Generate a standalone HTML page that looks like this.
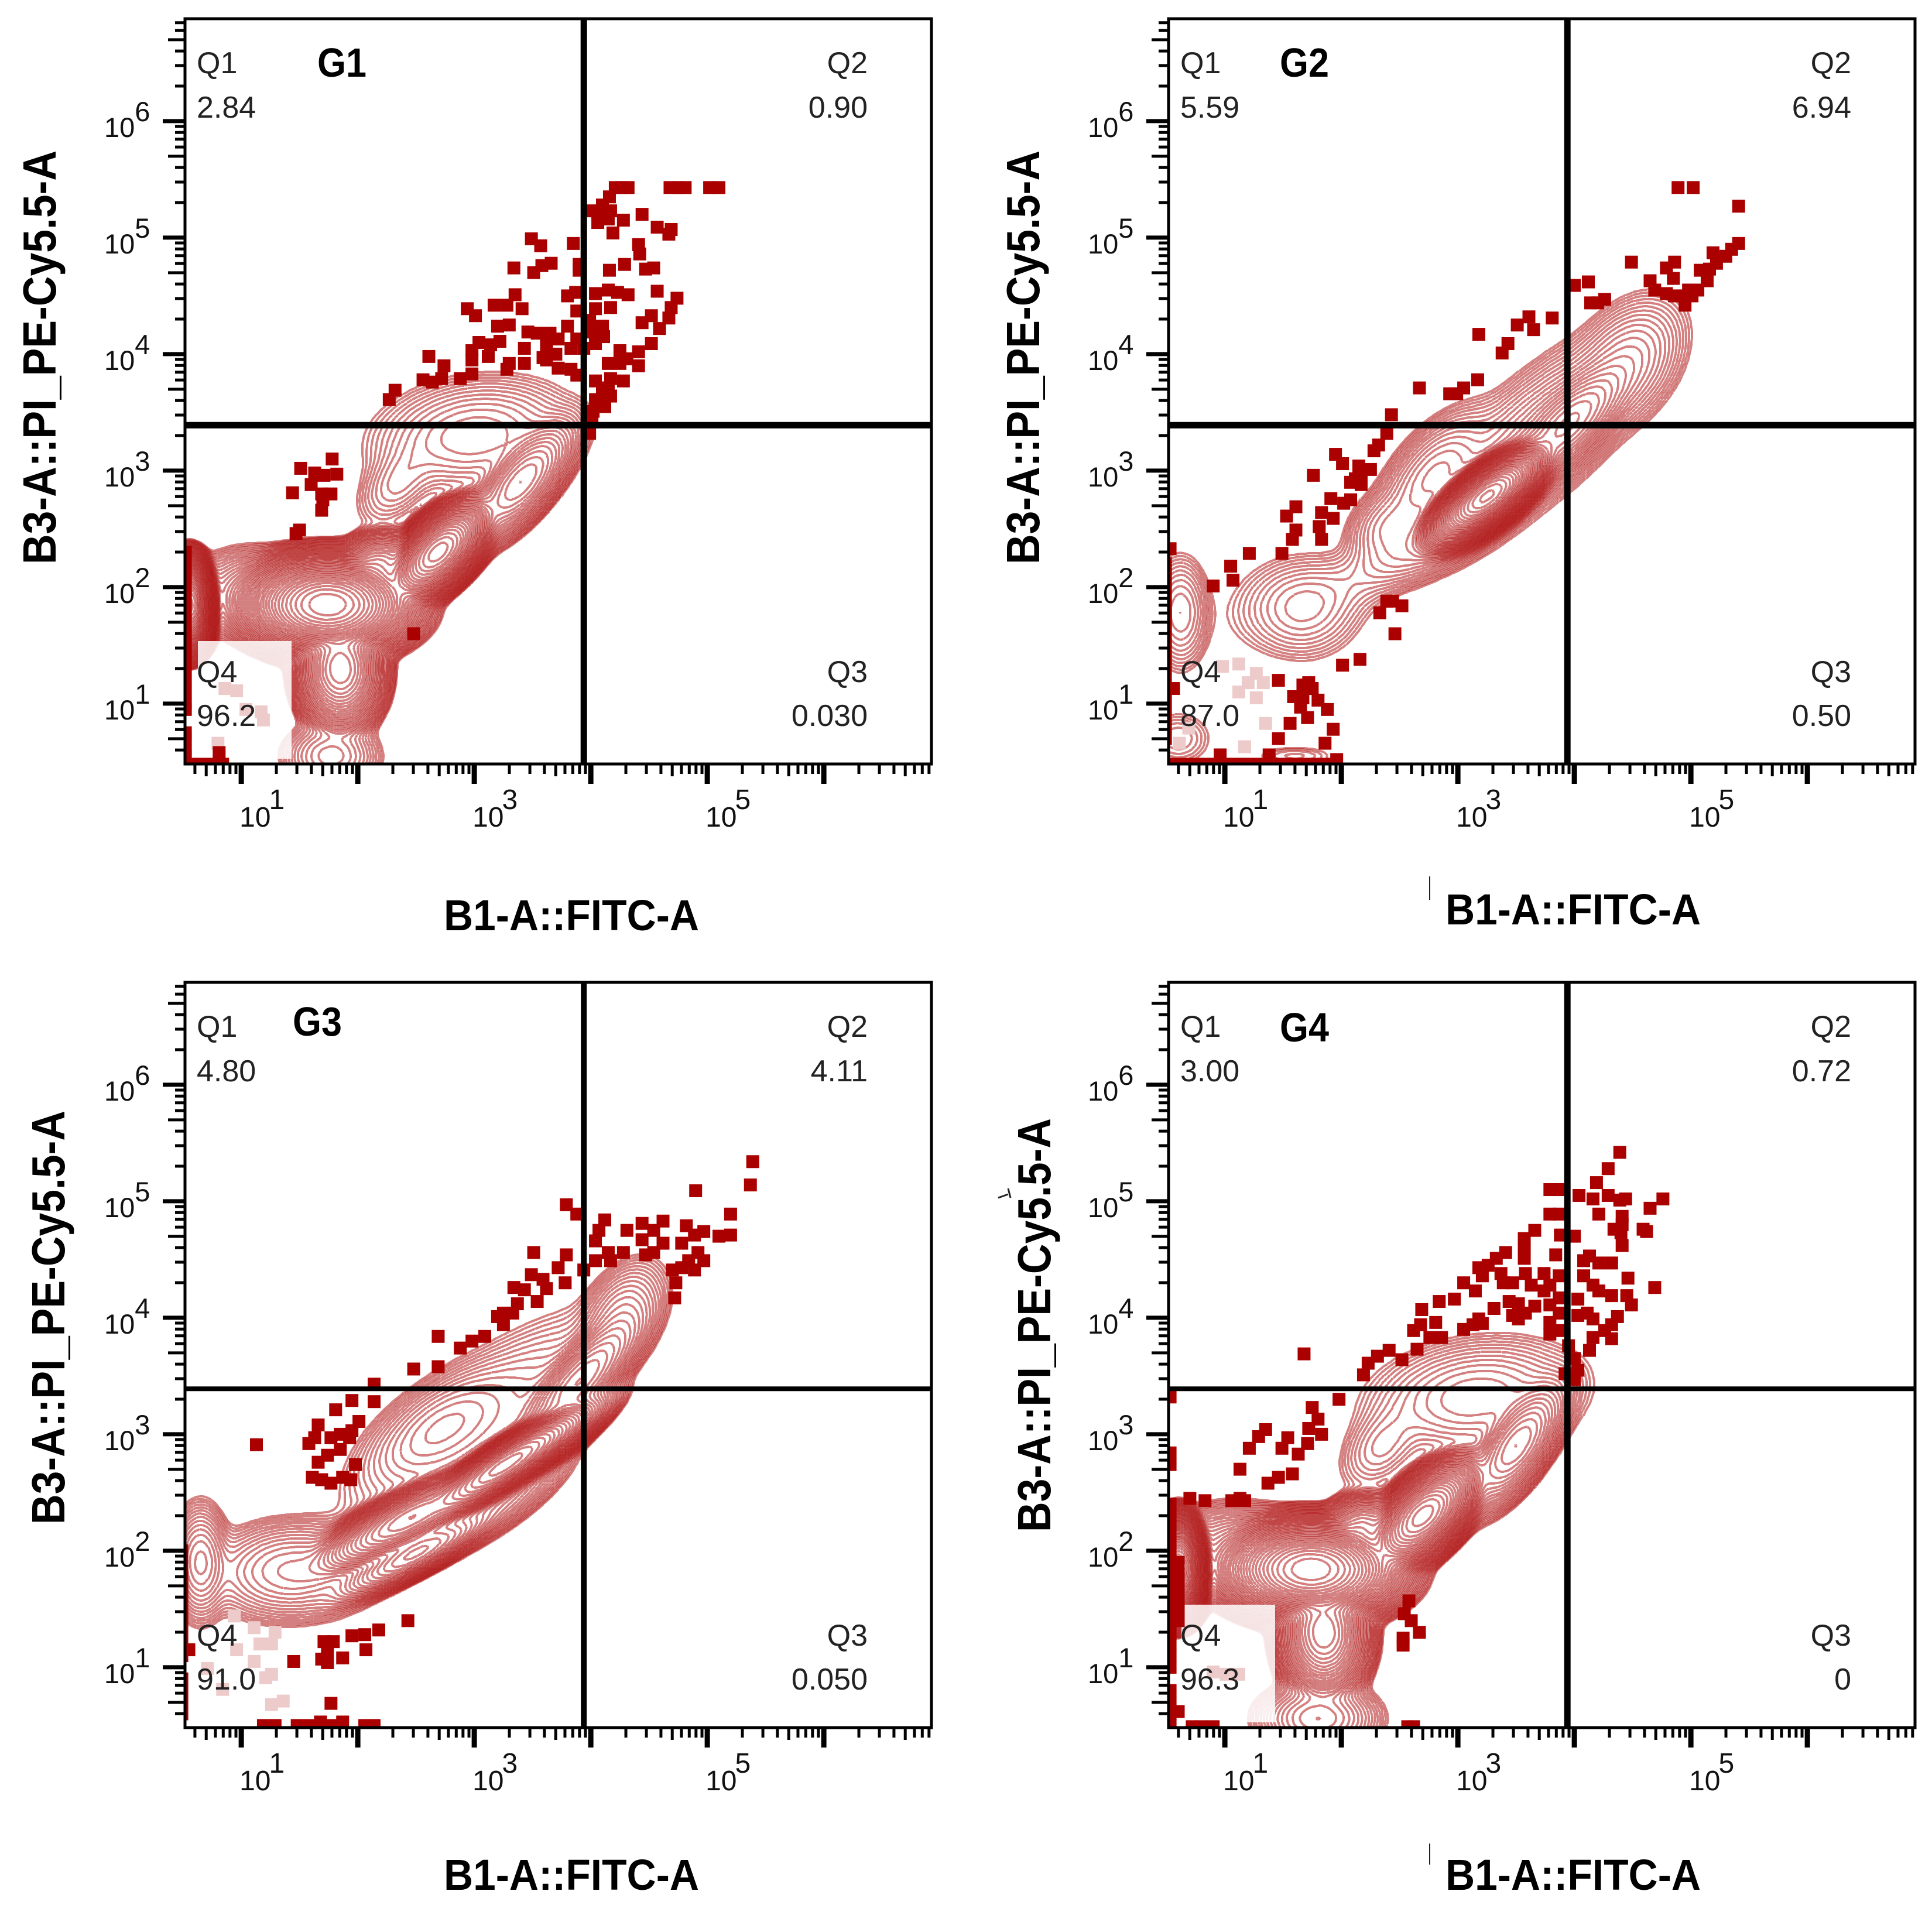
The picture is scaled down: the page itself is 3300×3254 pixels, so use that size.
<!DOCTYPE html>
<html lang="en">
<head>
<meta charset="utf-8">
<title>Flow cytometry quadrant plots G1-G4</title>
<style>
html,body{margin:0;padding:0;background:#fff}
svg{display:block}
text{font-family:"Liberation Sans",sans-serif}
</style>
</head>
<body>
<svg id="figure" width="3300" height="3254" viewBox="0 0 3300 3254"></svg>
<script>
/* ---- shared axis data (values are log10 of fluorescence intensity) ---- */
const xDomain = [0.517, 6.924];
const yDomain = [0.482, 6.879];
const xMajorDecades = [1, 2, 3, 4, 5, 6];
const yMajorDecades = [1, 2, 3, 4, 5, 6];
const xLabelDecades = [1, 3, 5];
const yLabelDecades = [1, 2, 3, 4, 5, 6];
const minorMultipliers = [2, 3, 4, 5, 6, 7, 8, 9];
const gateLogX = 3.94;
const gateLogY = 3.39;
const xAxisTitle = 'B1-A::FITC-A';
const yAxisTitle = 'B3-A::PI_PE-Cy5.5-A';

/* ---- G1 ---- */
const g1Stats = ['2.84', '0.90', '0.030', '96.2'];
const g1DotX = [4.21,4.27,4.32,4.68,4.75,4.81,5.02,5.10,4.16,4.10,4.02,4.10,4.17,4.06,4.15,4.28,4.19,4.44,4.57,4.69,4.67,4.41,4.42,3.85,3.49,3.57,3.90,3.90,3.66,3.58,3.51,3.34,4.16,4.29,4.47,4.54,4.57,4.74,4.69,4.67,4.52,4.44,4.59,4.52,4.41,4.25,4.31,4.15,4.25,4.41,4.28,4.17,4.04,4.15,4.10,4.17,4.04,4.12,4.02,4.01,3.99,4.04,4.15,4.23,4.32,4.17,4.04,3.87,3.80,3.88,3.99,4.10,4.02,4.11,4.04,3.80,3.88,3.94,3.83,3.72,3.65,3.54,3.46,3.62,3.70,3.62,3.43,3.43,3.30,3.28,3.22,3.14,3.04,2.98,2.98,3.12,3.20,3.30,3.41,3.28,3.35,3.17,3.01,2.94,2.98,2.88,2.74,2.72,2.61,2.56,2.64,2.32,2.27,3.83,3.88,3.72,3.59,1.78,1.51,1.63,1.71,1.82,1.60,1.69,1.77,1.70,1.69,1.44,1.50,1.47,2.48,
 .52,.52,.52,.52,.52,.52,.52,.52,.52,.52,.52,.52,.52,.52,.52,.52,.52,.52,.52,.57,.66,.76,.84,.81];
const g1DotY = [5.43,5.43,5.43,5.43,5.43,5.43,5.43,5.43,5.35,5.28,5.23,5.22,5.23,5.13,5.16,5.15,5.04,5.20,5.09,5.07,5.03,4.94,4.86,4.95,4.99,4.93,4.77,4.72,4.78,4.76,4.70,4.74,4.72,4.77,4.73,4.74,4.54,4.48,4.40,4.31,4.33,4.27,4.22,4.09,4.02,4.03,3.96,3.92,3.92,3.90,3.77,3.79,3.77,3.71,3.66,3.64,3.61,3.55,3.51,3.43,3.32,4.52,4.55,4.53,4.51,4.40,4.39,4.53,4.50,4.37,4.29,4.24,4.19,4.15,4.09,4.24,4.13,4.05,4.05,4.13,4.18,4.18,4.19,4.08,4.00,3.95,4.05,3.92,3.92,3.87,4.11,4.08,4.10,4.03,3.95,3.98,4.24,4.25,4.39,4.42,4.51,4.42,4.33,4.39,3.83,3.79,3.90,3.79,3.98,3.78,3.76,3.69,3.61,3.87,3.82,3.88,3.97,3.10,3.02,2.98,2.96,2.97,2.88,2.80,2.80,2.75,2.66,2.81,2.49,2.46,1.60,
 2.3,2.2,2.1,2.0,1.9,1.8,1.7,1.6,1.5,1.4,1.3,1.2,1.1,1.0,.95,.75,.7,.6,.55,.48,.48,.48,.48,.58];
const g1PaleX = [.86,.96,1.04,1.17,1.19,.80];
const g1PaleY = [1.13,1.11,.95,.93,.86,.66];
const g1PeakX = [1.74,1.85,1.10,.55,2.69,2.17,3.40,3.00,2.35,1.77];
const g1PeakY = [1.85,1.30,1.95,1.85,2.30,2.18,2.90,3.30,2.90,.55];
const g1SpreadA = [.205,.115,.22,.057,.165,.12,.24,.36,.20,.17];
const g1SpreadB = [.119,.16,.15,.106,.083,.095,.10,.20,.12,.12];
const g1Tilt = [0,0,0,0,45,20,50,8,50,0];
const g1Height = [12,9,4,14,11,7,6,3.6,2.5,3.5];

/* ---- G2 ---- */
const g2Stats = ['5.59', '6.94', '0.50', '87.0'];
const g2DotX = [4.89,5.02,5.41,5.41,5.35,5.30,5.19,5.22,5.16,5.08,5.14,5.06,4.98,5.01,4.93,4.95,4.86,4.79,4.85,4.65,4.69,4.79,4.86,4.49,4.12,4.00,4.26,4.14,4.20,3.81,3.61,3.51,3.65,3.18,3.43,3.38,3.17,3.05,2.99,2.93,2.67,2.43,2.39,2.32,2.28,1.95,2.01,2.15,2.25,2.17,2.12,2.08,2.17,1.76,1.91,2.02,2.08,1.61,1.53,1.83,1.93,1.81,1.61,1.58,1.83,1.49,1.21,1.05,1.07,.90,.53,2.39,2.44,2.52,2.33,2.46,2.16,2.01,1.46,1.72,1.67,1.75,1.59,1.67,1.80,1.88,1.65,1.71,1.56,1.93,1.46,1.86,.96,1.38,1.96,.56,
 .55,.65,.75,.85,.95,1.05,1.15,1.25,1.35,1.45,1.55,1.65,1.75,1.85,1.95,
 .49,.49,.49,.49,.49,.49,.49,.49,.49,.49,.49,.49,.49,.49,.49,.49];
const g2DotY = [5.43,5.43,5.27,4.95,4.90,4.84,4.87,4.78,4.73,4.72,4.63,4.55,4.55,4.50,4.50,4.42,4.79,4.74,4.65,4.63,4.55,4.52,4.50,4.79,4.62,4.59,4.47,4.44,4.44,4.31,4.32,4.25,4.21,4.17,4.09,4.01,3.78,3.71,3.66,3.66,3.71,3.48,3.32,3.22,3.17,3.14,3.06,3.04,3.01,2.98,2.93,2.90,2.88,2.96,2.76,2.72,2.75,2.69,2.61,2.64,2.59,2.52,2.49,2.41,2.41,2.29,2.29,2.18,2.06,2.01,2.33,1.88,1.88,1.84,1.78,1.60,1.38,1.33,1.20,1.18,1.16,1.13,1.06,1.05,1.03,.95,.97,.88,.83,.78,.70,.66,.56,.56,.52,1.13,
 .48,.48,.48,.48,.48,.48,.48,.48,.48,.48,.48,.48,.48,.48,.48,
 2.2,2.1,2.0,1.9,1.8,1.7,1.6,1.5,1.4,1.3,1.2,1.1,1.0,.9,.8,.7];
const g2PaleX = [1.12,1.27,1.20,1.33,1.12,1.27,.69,1.35,1.17,.98,.61];
const g2PaleY = [1.34,1.26,1.18,1.18,1.10,1.05,.79,.83,.63,1.32,.66];
const g2PeakX = [3.25,4.45,3.95,2.80,2.40,1.67,1.50,1.90,.62,.60,1.60,2.75,3.70];
const g2PeakY = [2.78,3.92,3.40,2.95,2.50,1.81,1.85,1.95,1.78,.70,.55,2.38,3.30];
const g2SpreadA = [.17,.26,.28,.28,.17,.22,.32,.30,.11,.15,.20,.35,.48];
const g2SpreadB = [.07,.17,.105,.14,.13,.19,.20,.15,.21,.12,.05,.12,.19];
const g2Tilt = [38,55,45,50,45,0,15,20,0,0,0,25,42];
const g2Height = [13,3.6,6,4.0,3.2,2.6,.9,1.5,3.0,1.5,1.0,3.5,4];

/* ---- G3 ---- */
const g3Stats = ['4.80', '4.11', '0.050', '91.0'];
const g3DotX = [5.39,5.37,4.90,5.20,5.20,5.10,4.82,4.97,4.89,4.78,4.92,4.84,4.97,4.89,4.78,4.70,4.73,4.72,4.62,4.44,4.31,4.54,4.44,4.62,4.54,4.28,4.47,4.12,4.07,4.04,4.15,4.04,4.17,3.94,3.79,3.88,3.79,3.51,3.72,3.49,3.59,3.78,3.62,3.34,3.43,3.37,3.54,3.25,3.20,3.33,3.25,3.09,2.98,2.88,2.69,2.69,2.48,2.14,2.14,1.95,1.81,2.01,1.66,1.95,1.85,1.77,1.63,1.58,1.93,1.74,1.85,1.66,1.98,1.61,1.69,1.87,1.77,1.94,1.13,2.43,2.18,2.06,1.95,1.71,1.79,1.74,2.07,1.69,1.74,1.87,1.45,1.77,
 1.19,1.29,1.48,1.58,1.68,1.77,1.87,2.06,2.14,.55,
 .49,.49,.49,.49,.49,.49,.49,.49,.49,.49,.49,.49,.49,.49];
const g3DotY = [5.34,5.14,5.09,4.89,4.71,4.70,4.79,4.74,4.71,4.64,4.56,4.49,4.49,4.41,4.43,4.41,4.30,4.17,4.83,4.81,4.75,4.75,4.67,4.64,4.56,4.56,4.54,4.84,4.75,4.66,4.56,4.49,4.49,4.41,4.97,4.89,4.54,4.56,4.43,4.37,4.33,4.30,4.25,4.26,4.24,4.12,4.14,4.04,4.01,4.04,3.94,3.84,3.80,3.74,3.84,3.58,3.56,3.43,3.28,3.29,3.21,3.11,3.08,3.03,3.00,2.97,2.97,2.92,2.97,2.82,2.87,2.76,2.74,2.63,2.61,2.63,2.58,2.61,2.91,1.40,1.32,1.28,1.27,1.22,1.22,1.15,1.15,1.07,1.04,1.08,1.05,.69,
 .50,.50,.50,.50,.53,.50,.53,.50,.50,1.15,
 2.0,1.9,1.8,1.7,1.6,1.5,1.4,1.3,1.2,1.1,.9,.8,.7,.6];
const g3PaleX = [.94,1.11,1.29,1.26,1.16,.96,1.11,.71,1.26,1.21,.84,1.36,1.26];
const g3PaleY = [1.44,1.34,1.30,1.20,1.20,1.15,1.05,.99,.94,.91,.81,.71,.68];
const g3PeakX = [3.27,2.45,2.50,1.45,2.70,4.25,3.90,.65,3.20,3.10];
const g3PeakY = [2.74,2.28,1.98,1.83,3.05,4.00,3.45,1.90,2.45,3.10];
const g3SpreadA = [.27,.277,.263,.30,.33,.22,.30,.10,.30,.60];
const g3SpreadB = [.062,.076,.062,.17,.15,.13,.095,.20,.10,.22];
const g3Tilt = [33,28,28,3,35,60,48,0,35,38];
const g3Height = [11,9,7,4.0,3.8,3.6,6,4.0,4.0,3];

/* ---- G4 ---- */
const g4Stats = ['3.00', '0.72', '0', '96.3'];
const g4DotX = [4.39,4.29,4.19,4.04,4.16,4.29,4.39,4.44,4.76,4.65,4.21,4.41,4.41,4.34,4.40,4.59,4.62,4.41,4.69,4.46,3.84,3.79,3.87,3.79,3.87,3.66,3.57,3.57,3.57,3.88,4.00,3.84,3.41,3.33,3.18,3.26,3.05,3.15,3.21,3.37,3.39,3.47,3.58,3.74,3.87,3.63,3.74,3.79,2.84,2.69,2.97,3.31,3.44,3.52,3.58,3.66,3.79,3.87,4.03,4.08,4.13,4.21,4.32,4.08,4.16,4.21,4.32,4.45,4.49,4.11,4.16,4.37,4.32,4.26,4.16,4.32,4.13,4.03,3.87,3.79,3.89,3.79,3.52,3.47,3.18,3.13,3.21,3.05,2.81,2.68,2.62,2.76,2.86,2.65,2.52,2.41,2.31,2.23,2.19,1.68,3.95,4.00,4.03,4.00,3.92,1.98,1.75,1.80,1.72,1.83,1.71,1.54,1.49,1.63,1.35,1.29,1.21,1.13,1.58,1.46,1.37,.53,.53,.53,.70,.83,1.06,1.13,1.17,2.58,2.54,2.60,2.67,2.53,2.53,2.57,2.62,
 .53,.53,.53,.53,.53,.53,.53,.53,.53,.53,.53,.53,.53,.53,.53,.53,.53,.53,.53,.60,.60,.60,.60,.60,.60,.72,.80,.90,.60];
const g4DotY = [5.42,5.28,5.16,5.05,5.02,5.05,5.01,5.02,5.02,4.94,4.89,4.87,4.80,4.76,4.73,4.76,4.74,4.62,4.26,4.34,5.10,5.10,5.10,4.89,4.89,4.75,4.68,4.60,4.51,4.71,4.70,4.54,4.56,4.51,4.43,4.45,4.30,4.23,4.36,4.38,4.30,4.30,4.38,4.38,4.36,4.28,4.23,4.28,4.14,4.07,4.16,4.08,4.14,4.12,4.04,4.10,4.11,4.17,4.16,4.49,4.53,4.47,4.47,4.36,4.28,4.23,4.19,4.19,4.11,4.04,3.99,4.01,3.94,3.89,3.83,3.82,3.72,4.02,4.04,3.96,3.89,3.86,3.99,4.02,3.99,3.94,3.95,3.90,3.96,3.94,3.89,3.83,3.83,3.73,3.64,3.72,3.67,3.61,3.51,3.69,3.76,3.65,3.55,3.47,3.52,3.30,3.23,3.13,3.05,3.00,2.92,2.97,2.88,2.83,3.04,2.98,2.88,2.70,2.66,2.63,2.58,3.32,2.84,2.74,2.45,2.43,2.43,2.45,2.43,1.57,1.46,1.40,1.30,1.25,1.19,.49,.49,
 2.4,2.3,2.2,2.1,2.0,1.9,1.8,1.7,1.6,1.5,1.4,1.3,1.2,1.1,1.0,.8,.7,.6,.5,1.9,1.8,1.7,1.6,1.5,1.4,.49,.49,.49,.62];
const g4PaleX = [.90,1.01,1.12];
const g4PaleY = [.96,.94,.94];
const g4PeakX = [1.74,1.85,1.10,.60,2.70,2.17,3.50,3.15,2.35,1.80];
const g4PeakY = [1.84,1.30,2.00,1.85,2.30,2.19,2.90,3.32,2.90,.56];
const g4SpreadA = [.216,.12,.25,.063,.18,.12,.24,.38,.20,.20];
const g4SpreadB = [.119,.17,.15,.11,.09,.095,.10,.20,.13,.12];
const g4Tilt = [0,0,0,0,45,20,55,8,50,0];
const g4Height = [12,9,4.5,15,11,7,6,3.6,2.5,4.5];

/* ---- panel descriptors ---- */
const panels = [
 {id:'g1',name:'G1',left:316,top:32,gateW:11,gateH:11,stats:g1Stats,dotX:g1DotX,dotY:g1DotY,paleX:g1PaleX,paleY:g1PaleY,
  peakX:g1PeakX,peakY:g1PeakY,spreadA:g1SpreadA,spreadB:g1SpreadB,tilt:g1Tilt,height:g1Height,
  wash:true,labelX:542,labelY:131,xTitle:[758,1589],yTitle:[95,964]},
 {id:'g2',name:'G2',left:1996,top:32,gateW:11,gateH:11,stats:g2Stats,dotX:g2DotX,dotY:g2DotY,paleX:g2PaleX,paleY:g2PaleY,
  peakX:g2PeakX,peakY:g2PeakY,spreadA:g2SpreadA,spreadB:g2SpreadB,tilt:g2Tilt,height:g2Height,
  wash:false,labelX:2186,labelY:131,xTitle:[2469,1579],yTitle:[1775,964]},
 {id:'g3',name:'G3',left:316,top:1678,gateW:10,gateH:8,stats:g3Stats,dotX:g3DotX,dotY:g3DotY,paleX:g3PaleX,paleY:g3PaleY,
  peakX:g3PeakX,peakY:g3PeakY,spreadA:g3SpreadA,spreadB:g3SpreadB,tilt:g3Tilt,height:g3Height,
  wash:false,labelX:500,labelY:1769,xTitle:[758,3228],yTitle:[110,2604]},
 {id:'g4',name:'G4',left:1996,top:1678,gateW:11,gateH:8,stats:g4Stats,dotX:g4DotX,dotY:g4DotY,paleX:g4PaleX,paleY:g4PaleY,
  peakX:g4PeakX,peakY:g4PeakY,spreadA:g4SpreadA,spreadB:g4SpreadB,tilt:g4Tilt,height:g4Height,
  wash:true,labelX:2186,labelY:1779,xTitle:[2469,3228],yTitle:[1794,2617]}
];

/* ---- rendering ---- */
const NS = 'http://www.w3.org/2000/svg';
const root = document.getElementById('figure');
const plotW = 1275, plotH = 1273;
const levelStep = 0.3, gridCells = 256;

function make(tag, attrs, parent) {
  const el = document.createElementNS(NS, tag);
  for (const k in attrs) el.setAttribute(k, attrs[k]);
  (parent || root).appendChild(el);
  return el;
}
function xScale(p, v) { return p.left + (v - xDomain[0]) / (xDomain[1] - xDomain[0]) * plotW; }
function yScale(p, v) { return p.top + plotH - (v - yDomain[0]) / (yDomain[1] - yDomain[0]) * plotH; }

function densityField(p) {
  const n = gridCells, field = new Float64Array((n + 1) * (n + 1));
  const comps = p.peakX.map((cx, i) => {
    const t = p.tilt[i] * Math.PI / 180;
    return {cx, cy: p.peakY[i], a: p.spreadA[i], b: p.spreadB[i], c: Math.cos(t), s: Math.sin(t), h: p.height[i]};
  });
  const dx = (xDomain[1] - xDomain[0]) / n, dy = (yDomain[1] - yDomain[0]) / n;
  for (let j = 0; j <= n; j++) {
    const y = yDomain[0] + j * dy;
    for (let i = 0; i <= n; i++) {
      const x = xDomain[0] + i * dx;
      let sum = 1e-4;
      for (const m of comps) {
        const ox = x - m.cx, oy = y - m.cy;
        const u = (ox * m.c + oy * m.s) / m.a, v = (-ox * m.s + oy * m.c) / m.b;
        const q = 0.5 * (u * u + v * v);
        if (q < 30) sum += Math.exp(m.h - q);
      }
      field[j * (n + 1) + i] = Math.log(sum);
    }
  }
  return field;
}

function contourPath(p, field, level) {
  const n = gridCells, w = n + 1;
  const dx = (xDomain[1] - xDomain[0]) / n, dy = (yDomain[1] - yDomain[0]) / n;
  const parts = [];
  const px = (i, j) => Math.round(xScale(p, xDomain[0] + i * dx)) + ' ' + Math.round(yScale(p, yDomain[0] + j * dy));
  for (let j = 0; j < n; j++) {
    for (let i = 0; i < n; i++) {
      const a = field[j * w + i], b = field[j * w + i + 1], c = field[(j + 1) * w + i + 1], d = field[(j + 1) * w + i];
      const mask = (a >= level ? 1 : 0) | (b >= level ? 2 : 0) | (c >= level ? 4 : 0) | (d >= level ? 8 : 0);
      if (mask === 0 || mask === 15) continue;
      const bottom = () => px(i + (level - a) / (b - a), j);
      const right = () => px(i + 1, j + (level - b) / (c - b));
      const top = () => px(i + (level - d) / (c - d), j + 1);
      const left = () => px(i, j + (level - a) / (d - a));
      const seg = (f, g) => parts.push('M' + f() + 'L' + g());
      switch (mask) {
        case 1: case 14: seg(left, bottom); break;
        case 2: case 13: seg(bottom, right); break;
        case 3: case 12: seg(left, right); break;
        case 4: case 11: seg(right, top); break;
        case 6: case 9: seg(bottom, top); break;
        case 7: case 8: seg(left, top); break;
        case 5: seg(left, top); seg(bottom, right); break;
        case 10: seg(left, bottom); seg(right, top); break;
      }
    }
  }
  return parts.join('');
}

const defs = make('defs', {});

panels.forEach(p => {
  const g = make('g', {});
  
  

  const clip = make('clipPath', {id: 'clip-' + p.id}, defs);
  make('rect', {x: p.left, y: p.top, width: plotW, height: plotH}, clip);

  const plot = make('g', {'clip-path': 'url(#clip-' + p.id + ')'}, g);
  
  

  /* contour lines */
  const field = densityField(p);
  const contours = make('g', {fill: 'none', stroke: '#b01818', 'stroke-opacity': '0.55', 'stroke-width': '4'}, plot);
  
  
  for (let k = 0; k < 70; k++) {
    const d = contourPath(p, field, k * levelStep);
    if (!d) continue;
    const path = make('path', {d: d}, contours);
    
    
  }

  /* whitened block behind the Q4 label */
  if (p.wash) {
    const wash = make('rect', {x: p.left + 22, y: p.top + plotH - 210, width: 160, height: 201, fill: '#fff', 'fill-opacity': '0.86'}, plot);
    
    
  }

  /* pale events */
  p.paleX.forEach((v, i) => {
    const dot = make('rect', {x: xScale(p, v) - 11, y: yScale(p, p.paleY[i]) - 11, width: 22, height: 22, fill: '#eecbcb'}, plot);
    
    
  });

  /* outlier events */
  p.dotX.forEach((v, i) => {
    const dot = make('rect', {x: xScale(p, v) - 11, y: yScale(p, p.dotY[i]) - 11, width: 22, height: 22, fill: '#aa0000'}, plot);
    
    
  });

  /* quadrant gates */
  const gv = make('line', {x1: xScale(p, gateLogX), x2: xScale(p, gateLogX), y1: p.top, y2: p.top + plotH, stroke: '#000', 'stroke-width': p.gateW}, g);
  
  
  const gh = make('line', {x1: p.left, x2: p.left + plotW, y1: yScale(p, gateLogY), y2: yScale(p, gateLogY), stroke: '#000', 'stroke-width': p.gateH}, g);
  
  

  /* frame */
  const frame = make('rect', {x: p.left, y: p.top, width: plotW, height: plotH, fill: 'none', stroke: '#000', 'stroke-width': '5'}, g);
  
  

  /* x ticks */
  const xTicks = make('g', {stroke: '#000'}, g);
  
  
  const bottomY = p.top + plotH;
  [0].concat(xMajorDecades).forEach(dec => {
    minorMultipliers.forEach(m => {
      const v = dec + Math.log10(m);
      if (v < xDomain[0] || v > xDomain[1]) return;
      const len = m === 5 ? 21 : 17;
      const t = make('line', {x1: xScale(p, v), x2: xScale(p, v), y1: bottomY, y2: bottomY + len, 'stroke-width': 5}, xTicks);
      
      
    });
  });
  xMajorDecades.forEach(dec => {
    const t = make('line', {x1: xScale(p, dec), x2: xScale(p, dec), y1: bottomY, y2: bottomY + 34, 'stroke-width': 9}, xTicks);
    
    
  });

  /* y ticks */
  const yTicks = make('g', {stroke: '#000'}, g);
  
  
  [0].concat(yMajorDecades).forEach(dec => {
    minorMultipliers.forEach(m => {
      const v = dec + Math.log10(m);
      if (v < yDomain[0] || v > yDomain[1]) return;
      const len = m === 5 ? 29 : 17;
      const t = make('line', {x1: p.left - len, x2: p.left, y1: yScale(p, v), y2: yScale(p, v), 'stroke-width': 5}, yTicks);
      
      
    });
  });
  yMajorDecades.forEach(dec => {
    const t = make('line', {x1: p.left - 38, x2: p.left, y1: yScale(p, dec), y2: yScale(p, dec), 'stroke-width': 7}, yTicks);
    
    
  });

  /* tick labels */
  xLabelDecades.forEach(dec => {
    const t = make('text', {x: xScale(p, dec) - 3, y: bottomY + 107, 'font-size': 48, fill: '#111'}, g);
    
    
    make('tspan', {}, t).textContent = '10';
    make('tspan', {dx: -3, dy: -30}, t).textContent = String(dec);
  });
  yLabelDecades.forEach(dec => {
    const t = make('text', {x: p.left - 138, y: yScale(p, dec) + 27, 'font-size': 47, fill: '#111'}, g);
    
    
    make('tspan', {}, t).textContent = '10';
    make('tspan', {dx: 0, dy: -27}, t).textContent = String(dec);
  });

  /* quadrant statistics */
  const qNames = ['Q1', 'Q2', 'Q3', 'Q4'];
  qNames.forEach((q, i) => {
    const isRight = i === 1 || i === 2;
    const isLower = i === 2 || i === 3;
    const tx = isRight ? p.left + 1166 : p.left + 20;
    const y1 = isLower ? bottomY - 140 : p.top + 93;
    const y2 = isLower ? bottomY - 65 : p.top + 169;
    const a = make('text', {x: tx, y: y1, 'font-size': 52, fill: '#222', 'text-anchor': isRight ? 'end' : 'start'}, g);
    
    
    a.textContent = q;
    const b = make('text', {x: tx, y: y2, 'font-size': 52, fill: '#222', 'text-anchor': isRight ? 'end' : 'start'}, g);
    
    
    b.textContent = p.stats[i];
  });

  /* panel label */
  const label = make('text', {x: p.labelX, y: p.labelY, 'font-size': 70, 'font-weight': 'bold', fill: '#000', textLength: 84, lengthAdjust: 'spacingAndGlyphs'}, g);
  
  
  label.textContent = p.name;

  /* axis titles */
  const xt = make('text', {x: p.xTitle[0], y: p.xTitle[1], 'font-size': 74, 'font-weight': 'bold', fill: '#000', textLength: 436, lengthAdjust: 'spacingAndGlyphs'}, g);
  
  
  xt.textContent = xAxisTitle;
  const yt = make('text', {x: 0, y: 0, transform: 'translate(' + p.yTitle[0] + ' ' + p.yTitle[1] + ') rotate(-90)', 'font-size': 80, 'font-weight': 'bold', fill: '#000', textLength: 707, lengthAdjust: 'spacingAndGlyphs'}, g);
  
  
  yt.textContent = yAxisTitle;
});

/* stray marks present in the source figure */
const mark1 = make('line', {x1: 2442, x2: 2442, y1: 1497, y2: 1537, stroke: '#222', 'stroke-width': 2});


const mark2 = make('line', {x1: 2442, x2: 2442, y1: 3149, y2: 3185, stroke: '#222', 'stroke-width': 2});


const mark3 = make('path', {d: 'M1705 2046L1722 2040M1722 2030L1726 2046', stroke: '#222', 'stroke-width': 3, fill: 'none'});


</script>
</body>
</html>
